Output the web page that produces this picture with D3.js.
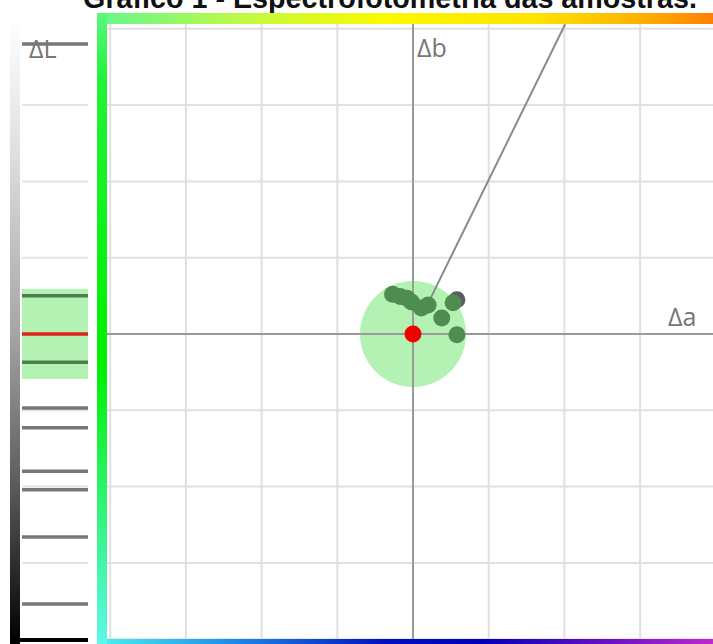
<!DOCTYPE html>
<html>
<head>
<meta charset="utf-8">
<script src="https://cdn.jsdelivr.net/npm/d3@7"></script>
<style>
  body { margin: 0; background: #fff; }
  svg { display: block; }
</style>
</head>
<body>
<script>
// chart values
var titleText = "Gráfico 1 - Espectrofotometria das amostras.";
var gridTicks = [-4, -3, -2, -1, 1, 2, 3, 4];
var sampleA = [-0.27, -0.17, -0.08, -0.02, 0.11, 0.20, 0.38, 0.58, 0.53];
var sampleB = [0.52, 0.49, 0.47, 0.42, 0.34, 0.38, 0.21, -0.01, 0.41];
var outlierA = [0.58];
var outlierB = [0.45];
var sampleL = [3.80, 0.50, -0.37, -0.97, -1.23, -1.80, -2.04, -2.66, -3.54];
var abTolerance = 0.70;
var lTolerance = 0.59;
var hueEnd = [2.01, 4.06];

var width = 713, height = 644;

var svg = d3.select("body").append("svg")
    .attr("width", width)
    .attr("height", height);

var defs = svg.append("defs");

// scales (centre of the standard at 413,334)
var xScale = d3.scaleLinear().domain([-4, 4]).range([413 - 4 * 75.7, 413 + 4 * 75.7]);
var yScale = d3.scaleLinear().domain([-4, 4]).range([334 + 4 * 76.3, 334 - 4 * 76.3]);

var plot = { left: 107, top: 24, right: 730, bottom: 639 };

defs.append("clipPath").attr("id", "plotClip")
  .append("rect")
    .attr("x", plot.left).attr("y", plot.top)
    .attr("width", plot.right - plot.left)
    .attr("height", plot.bottom - plot.top);

// gradients for the frame
function gradient(id, horizontal, stops) {
    var g = defs.append("linearGradient").attr("id", id)
        .attr("x1", "0%").attr("y1", "0%")
        .attr("x2", horizontal ? "100%" : "0%")
        .attr("y2", horizontal ? "0%" : "100%");
    stops.forEach(function(s) {
        g.append("stop").attr("offset", s[0]).attr("stop-color", s[1]);
    });
}
gradient("gTop", true, [["0%", "#62f78e"], ["25%", "#c8fa3c"], ["45%", "#fbf900"], ["68%", "#ffe400"], ["85%", "#ffb000"], ["100%", "#ff7000"]]);
gradient("gLeft", false, [["0%", "#5cf67f"], ["10%", "#22f33a"], ["55%", "#00f000"], ["82%", "#3af48e"], ["100%", "#5ff7f0"]]);
gradient("gBottom", true, [["0%", "#48f5f0"], ["22%", "#1c86ea"], ["45%", "#0010c0"], ["60%", "#0000b8"], ["80%", "#6a10c8"], ["100%", "#d030d0"]]);
gradient("gL", false, [["0%", "#ffffff"], ["20%", "#e2e2e2"], ["50%", "#a6a6a6"], ["75%", "#5a5a5a"], ["100%", "#000000"]]);

// title (top is cut by the window, as in the source)
svg.append("text")
    .attr("x", 390)
    .attr("y", 8)
    .attr("text-anchor", "middle")
    .style("font-family", "'Liberation Sans', Arial, sans-serif")
    .style("font-weight", "bold")
    .style("font-size", "28.7px")
    .attr("fill", "#111")
    .text(titleText);

var inner = svg.append("g").attr("clip-path", "url(#plotClip)");

// grid lines
inner.selectAll(".vgrid").data(gridTicks).enter().append("line")
    .attr("x1", function(d) { return xScale(d); })
    .attr("x2", function(d) { return xScale(d); })
    .attr("y1", plot.top).attr("y2", plot.bottom)
    .attr("stroke", "#e0e0e0").attr("stroke-width", 2);
inner.selectAll(".hgrid").data(gridTicks).enter().append("line")
    .attr("y1", function(d) { return yScale(d); })
    .attr("y2", function(d) { return yScale(d); })
    .attr("x1", plot.left).attr("x2", plot.right)
    .attr("stroke", "#e0e0e0").attr("stroke-width", 2);

// tolerance circle
inner.append("circle")
    .attr("cx", xScale(0)).attr("cy", yScale(0))
    .attr("r", xScale(abTolerance) - xScale(0))
    .attr("fill", "#b3f2b3");

// axes through the standard
inner.append("line")
    .attr("x1", xScale(0)).attr("x2", xScale(0))
    .attr("y1", plot.top).attr("y2", plot.bottom)
    .attr("stroke", "#9a9a9a").attr("stroke-width", 2);
inner.append("line")
    .attr("y1", yScale(0)).attr("y2", yScale(0))
    .attr("x1", plot.left).attr("x2", plot.right)
    .attr("stroke", "#9a9a9a").attr("stroke-width", 2);

// hue direction, from the mean of the samples outwards
var meanB = d3.mean(sampleB);
var startA = meanB * hueEnd[0] / hueEnd[1];
inner.append("line")
    .attr("x1", xScale(startA)).attr("y1", yScale(meanB))
    .attr("x2", xScale(hueEnd[0])).attr("y2", yScale(hueEnd[1]))
    .attr("stroke", "#8a8a8a").attr("stroke-width", 2);

// samples
inner.selectAll(".outlier").data(outlierA).enter().append("circle")
    .attr("cx", function(d) { return xScale(d); })
    .attr("cy", function(d, i) { return yScale(outlierB[i]); })
    .attr("r", 8.5)
    .attr("fill", "#5b5b68");

inner.selectAll(".sample").data(sampleA).enter().append("circle")
    .attr("cx", function(d) { return xScale(d); })
    .attr("cy", function(d, i) { return yScale(sampleB[i]); })
    .attr("r", 8.5)
    .attr("fill", "#4f8c4f");

// standard
inner.append("circle")
    .attr("cx", xScale(0)).attr("cy", yScale(0))
    .attr("r", 8.5)
    .attr("fill", "#f00000");

// coloured frame
svg.append("rect").attr("x", 97).attr("y", 13).attr("width", 640).attr("height", 11).attr("fill", "url(#gTop)");
svg.append("rect").attr("x", 97).attr("y", 639).attr("width", 640).attr("height", 11).attr("fill", "url(#gBottom)");
svg.append("rect").attr("x", 97).attr("y", 13).attr("width", 10).attr("height", 637).attr("fill", "url(#gLeft)");

// axis labels
var labelStyle = function(sel) {
    sel.style("font-family", "'Open Sans', sans-serif")
       .style("font-size", "25px")
       .attr("fill", "#767676");
};
svg.append("text").attr("x", 417).attr("y", 57).text("Δb").call(labelStyle);
svg.append("text").attr("x", 668).attr("y", 326).text("Δa").call(labelStyle);

// L axis
var lAxis = svg.append("g");
lAxis.append("rect")
    .attr("x", 10).attr("y", 18).attr("width", 10).attr("height", 626)
    .attr("fill", "url(#gL)");

lAxis.append("rect")
    .attr("x", 22).attr("width", 66)
    .attr("y", yScale(lTolerance))
    .attr("height", yScale(-lTolerance) - yScale(lTolerance))
    .attr("fill", "#b3f2b3");

lAxis.selectAll(".lgrid").data(gridTicks.filter(function(d) { return d > -4 && d < 4; })).enter().append("line")
    .attr("x1", 22).attr("x2", 88)
    .attr("y1", function(d) { return yScale(d); })
    .attr("y2", function(d) { return yScale(d); })
    .attr("stroke", "#e4e4e4").attr("stroke-width", 2);

lAxis.append("text").attr("x", 29).attr("y", 58).text("ΔL").call(labelStyle);

lAxis.selectAll(".ltick").data(sampleL).enter().append("line")
    .attr("x1", 22).attr("x2", 88)
    .attr("y1", function(d) { return yScale(d); })
    .attr("y2", function(d) { return yScale(d); })
    .attr("stroke", function(d) { return Math.abs(d) <= lTolerance ? "#4e7d4e" : "#777777"; })
    .attr("stroke-width", 3.5);

lAxis.append("line")
    .attr("x1", 22).attr("x2", 88)
    .attr("y1", yScale(0)).attr("y2", yScale(0))
    .attr("stroke", "#dd2418").attr("stroke-width", 3.5);

lAxis.append("line")
    .attr("x1", 10).attr("x2", 88)
    .attr("y1", 640).attr("y2", 640)
    .attr("stroke", "#000").attr("stroke-width", 4);
</script>
</body>
</html>
